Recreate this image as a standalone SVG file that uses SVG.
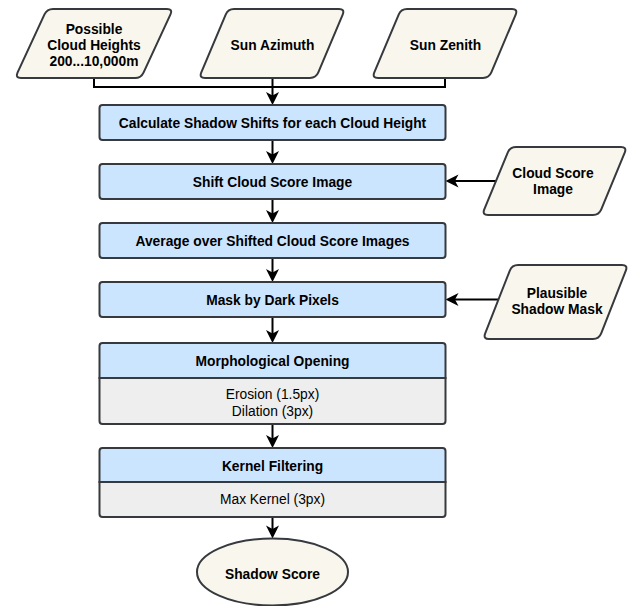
<svg xmlns="http://www.w3.org/2000/svg" width="630" height="606" viewBox="0 0 630 606">
<style>
.io{fill:#f9f7ed;stroke:#36393d;stroke-width:2}
.hd{fill:#cce5ff;stroke:#36393d;stroke-width:2}
.bd{fill:#eeeeee;stroke:#36393d;stroke-width:2}
.t{font-family:"Liberation Sans",Arial,Helvetica,sans-serif;font-size:13.8px;text-anchor:middle;fill:#000}
.b{font-weight:bold}
.c{fill:none;stroke:#000;stroke-width:2}
.a{marker-end:url(#arr)}
</style>
<defs>
<marker id="arr" markerUnits="userSpaceOnUse" viewBox="-14 -7 15 14" markerWidth="15" markerHeight="14" refX="-9" refY="0" orient="auto">
<path d="M0,0 L-13,-6.5 L-9.5,0 L-13,6.5 Z" fill="#000"/>
</marker>
</defs>
<rect width="630" height="606" fill="#ffffff"/>
<g id="connectors">
<path class="c" d="M94,78 V87 H445 V78"/>
<path class="c a" d="M272.5,78 V96"/>
<path class="c a" d="M272.5,140 V155"/>
<path class="c a" d="M272.5,199 V214"/>
<path class="c a" d="M272.5,258 V273"/>
<path class="c a" d="M272.5,317 V334"/>
<path class="c a" d="M272.5,424 V439"/>
<path class="c a" d="M272.5,517 V529.5"/>
<path class="c a" d="M496,181 H454.5"/>
<path class="c a" d="M498.5,299.5 H454.5"/>
</g>
<g id="possible-cloud-heights">
<path class="io" d="M53,9 L167,9 Q173,9 170.48,14.44 L143.52,72.56 Q141,78 135,78 L21,78 Q15,78 17.52,72.56 L44.48,14.44 Q47,9 53,9 Z"/>
<text class="t b" x="94" y="33.6">Possible</text>
<text class="t b" x="94" y="50">Cloud Heights</text>
<text class="t b" x="94" y="66.4">200...10,000m</text>
</g>
<g id="sun-azimuth">
<path class="io" d="M234,9 L339,9 Q345,9 342.68,14.53 L318.32,72.47 Q316,78 310,78 L205,78 Q199,78 201.32,72.47 L225.68,14.53 Q228,9 234,9 Z"/>
<text class="t b" x="272.5" y="50">Sun Azimuth</text>
</g>
<g id="sun-zenith">
<path class="io" d="M407,9 L512,9 Q518,9 515.68,14.53 L491.32,72.47 Q489,78 483,78 L378,78 Q372,78 374.32,72.47 L398.68,14.53 Q401,9 407,9 Z"/>
<text class="t b" x="445.5" y="50">Sun Zenith</text>
</g>
<g id="calc-shifts">
<rect class="hd" x="99.5" y="105" width="346" height="35" rx="3"/>
<text class="t b" x="272.5" y="127.5">Calculate Shadow Shifts for each Cloud Height</text>
</g>
<g id="shift-image">
<rect class="hd" x="99.5" y="164" width="346" height="35" rx="3"/>
<text class="t b" x="272.5" y="187">Shift Cloud Score Image</text>
</g>
<g id="cloud-score-image">
<path class="io" d="M516,147 L621,147 Q627,147 624.72,152.55 L601.28,209.45 Q599,215 593,215 L488,215 Q482,215 484.28,209.45 L507.72,152.55 Q510,147 516,147 Z"/>
<text class="t b" x="553" y="177.7">Cloud Score</text>
<text class="t b" x="553" y="194.3">Image</text>
</g>
<g id="average">
<rect class="hd" x="99.5" y="223" width="346" height="35" rx="3"/>
<text class="t b" x="272.5" y="246">Average over Shifted Cloud Score Images</text>
</g>
<g id="mask-dark">
<rect class="hd" x="99.5" y="282" width="346" height="35" rx="3"/>
<text class="t b" x="272.5" y="305">Mask by Dark Pixels</text>
</g>
<g id="plausible-shadow-mask">
<path class="io" d="M518,265 L622,265 Q628,265 625.81,270.59 L601.19,333.41 Q599,339 593,339 L489,339 Q483,339 485.19,333.41 L509.81,270.59 Q512,265 518,265 Z"/>
<text class="t b" x="557" y="297.7">Plausible</text>
<text class="t b" x="557" y="314">Shadow Mask</text>
</g>
<g id="morph-opening">
<path class="bd" d="M99.5,378 H445.5 V421 Q445.5,424 442.5,424 H102.5 Q99.5,424 99.5,421 Z"/>
<path class="hd" d="M99.5,378 V346 Q99.5,343 102.5,343 H442.5 Q445.5,343 445.5,346 V378 Z"/>
<text class="t b" x="272.5" y="366">Morphological Opening</text>
<text class="t" x="272.5" y="399">Erosion (1.5px)</text>
<text class="t" x="272.5" y="416">Dilation (3px)</text>
</g>
<g id="kernel-filtering">
<path class="bd" d="M99.5,482 H445.5 V514 Q445.5,517 442.5,517 H102.5 Q99.5,517 99.5,514 Z"/>
<path class="hd" d="M99.5,482 V451 Q99.5,448 102.5,448 H442.5 Q445.5,448 445.5,451 V482 Z"/>
<text class="t b" x="272.5" y="471">Kernel Filtering</text>
<text class="t" x="272.5" y="504">Max Kernel (3px)</text>
</g>
<g id="shadow-score">
<ellipse class="io" cx="272.5" cy="572" rx="75.5" ry="33.5"/>
<text class="t b" x="272.5" y="579.3">Shadow Score</text>
</g>
</svg>
